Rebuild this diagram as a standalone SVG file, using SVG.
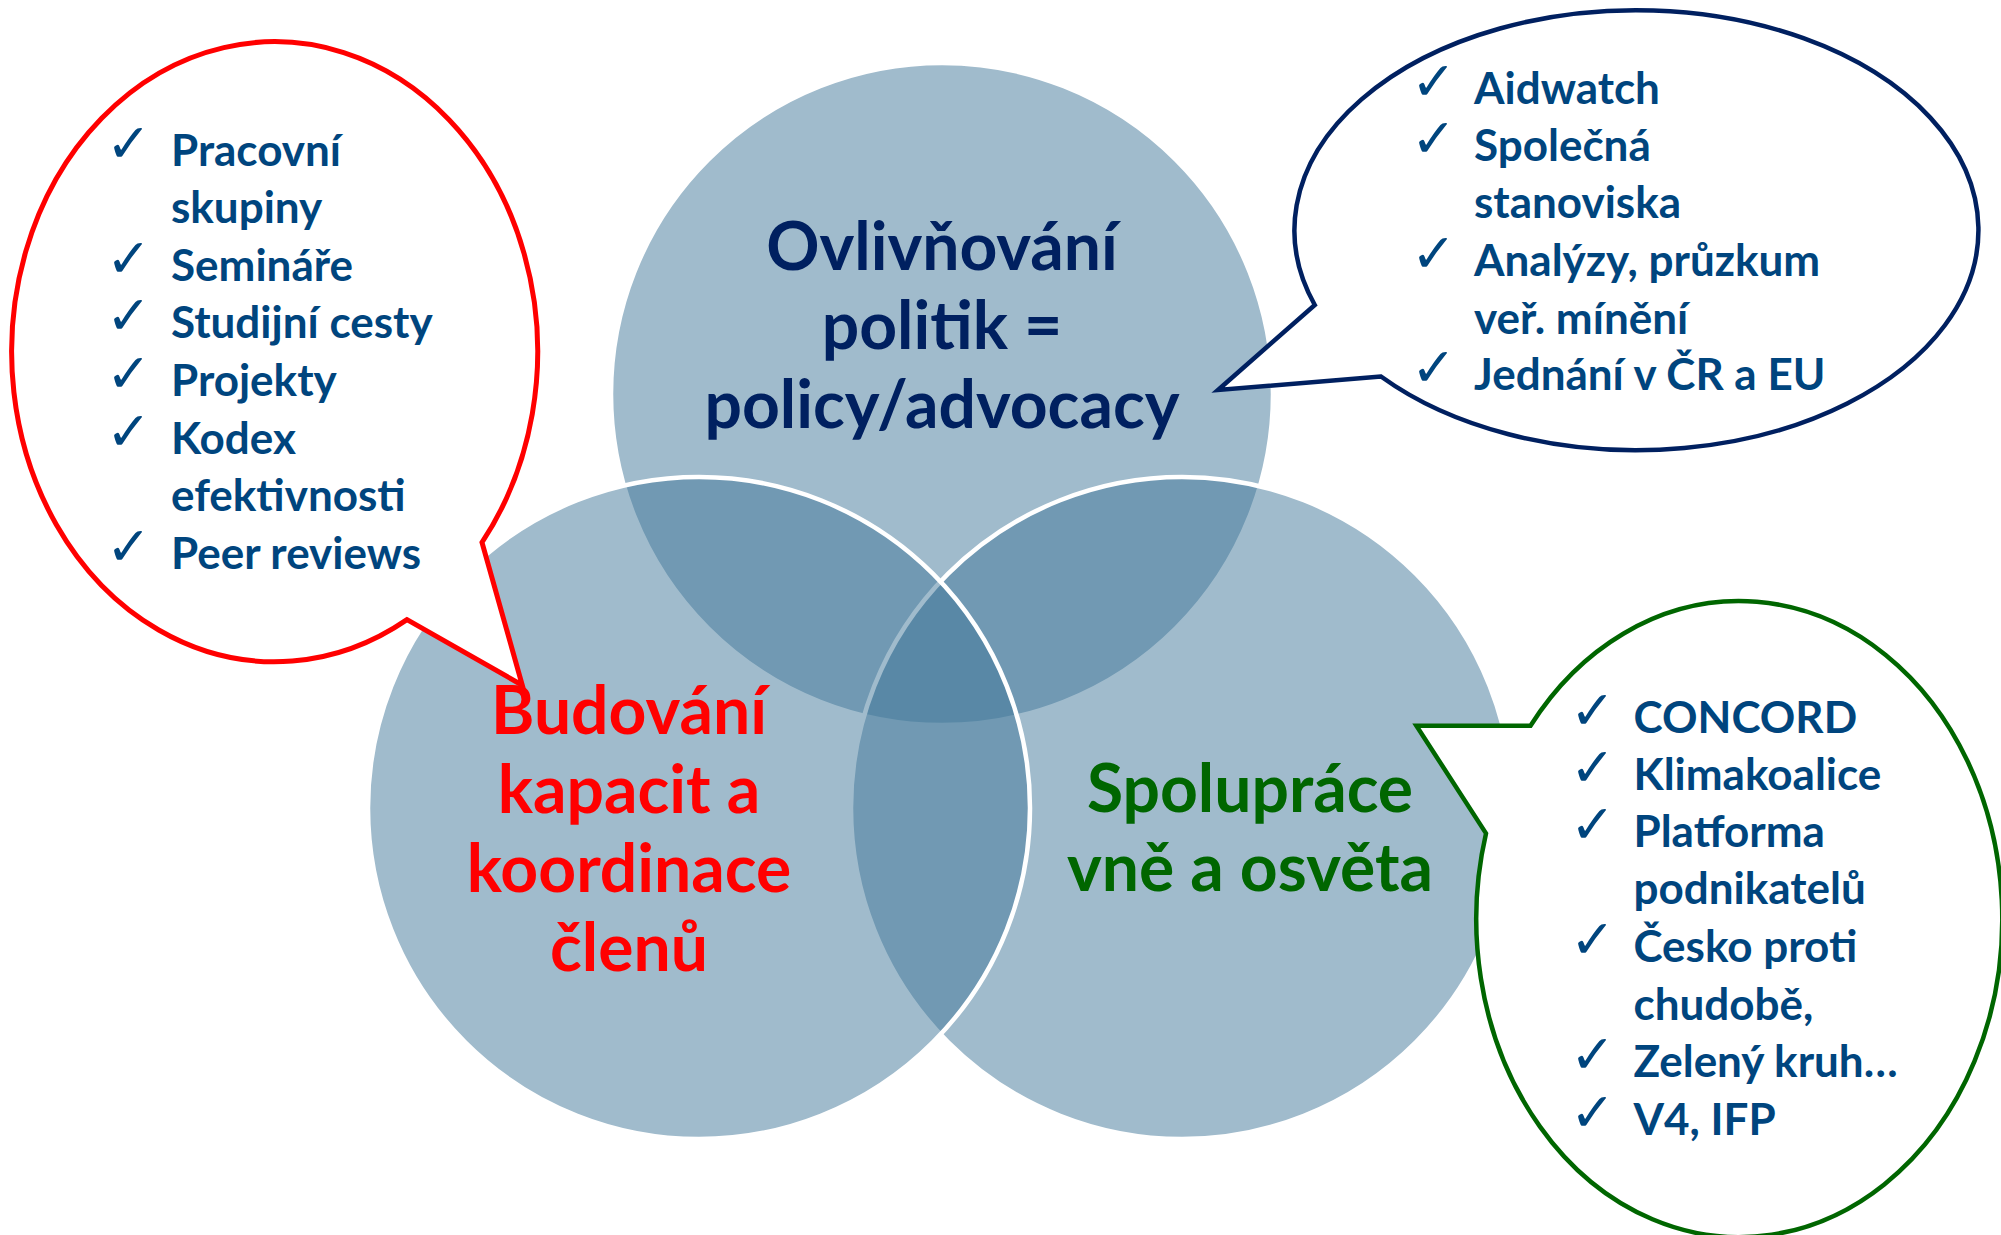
<svg xmlns="http://www.w3.org/2000/svg" width="2001" height="1235" viewBox="0 0 2001 1235">
<style>
.venn{fill:#417799;fill-opacity:0.5;stroke:#ffffff;stroke-width:4.5}
.big{font-family:Lato,"Open Sans","Liberation Sans",sans-serif;font-weight:bold;font-size:66px;text-anchor:middle}
.item{font-family:Lato,"Open Sans","Liberation Sans",sans-serif;font-weight:bold;font-size:44px;fill:#00457E}
.chk{font-family:"DejaVu Sans",sans-serif;font-size:54px;fill:#00457E}
.bubble{fill:#ffffff;stroke-linejoin:miter}
</style>
<rect width="2001" height="1235" fill="#ffffff"/>
<g id="node-top">
<circle class="venn" cx="942" cy="394" r="331"/>
<text class="big" fill="#002060"><tspan x="942" y="270">Ovlivňování</tspan><tspan x="942" y="349">politik =</tspan><tspan x="942" y="428">policy/advocacy</tspan></text>
</g>
<g id="node-right">
<circle class="venn" cx="1182" cy="808" r="331"/>
<text class="big" fill="#006600"><tspan x="1250" y="812">Spolupráce</tspan><tspan x="1250" y="891">vně a osvěta</tspan></text>
</g>
<g id="node-left">
<circle class="venn" cx="699" cy="808" r="331"/>
<text class="big" fill="#FF0000"><tspan x="629" y="734">Budování</tspan><tspan x="629" y="813">kapacit a</tspan><tspan x="629" y="892">koordinace</tspan><tspan x="629" y="971">členů</tspan></text>
</g>
<g id="connectors"></g>
<g id="bubble-left">
<path class="bubble" stroke="#FF0000" stroke-width="5" d="M407,619.6 L522.3,685.2 L482,542.4 A263,310 0 1 0 407,619.6 Z"/>
<text class="chk" x="106" y="162">✓</text>
<text class="chk" x="106" y="277">✓</text>
<text class="chk" x="106" y="334">✓</text>
<text class="chk" x="106" y="392">✓</text>
<text class="chk" x="106" y="450">✓</text>
<text class="chk" x="106" y="565">✓</text>
<text class="item"><tspan x="171" y="166">Pracovní</tspan><tspan x="171" y="223">skupiny</tspan><tspan x="171" y="281">Semináře</tspan><tspan x="171" y="338">Studijní cesty</tspan><tspan x="171" y="396">Projekty</tspan><tspan x="171" y="454">Kodex</tspan><tspan x="171" y="511">efektivnosti</tspan><tspan x="171" y="569">Peer reviews</tspan></text>
</g>
<g id="bubble-top">
<path class="bubble" stroke="#002060" stroke-width="4.5" d="M1381,376.5 L1218,390 L1314.8,305 A342,220 0 1 1 1381,376.5 Z"/>
<text class="chk" x="1411" y="100">✓</text>
<text class="chk" x="1411" y="157">✓</text>
<text class="chk" x="1411" y="272">✓</text>
<text class="chk" x="1411" y="386">✓</text>
<text class="item"><tspan x="1474" y="104">Aidwatch</tspan><tspan x="1474" y="161">Společná</tspan><tspan x="1474" y="218">stanoviska</tspan><tspan x="1474" y="276">Analýzy, průzkum</tspan><tspan x="1474" y="334">veř. mínění</tspan><tspan x="1474" y="390">Jednání v ČR a EU</tspan></text>
</g>
<g id="bubble-right">
<path class="bubble" stroke="#006600" stroke-width="4.5" d="M1530.5,725.7 L1416.4,725.7 L1486,833.4 A263,318 0 1 0 1530.5,725.7 Z"/>
<text class="chk" x="1570" y="729">✓</text>
<text class="chk" x="1570" y="786">✓</text>
<text class="chk" x="1570" y="843">✓</text>
<text class="chk" x="1570" y="958">✓</text>
<text class="chk" x="1570" y="1073">✓</text>
<text class="chk" x="1570" y="1131">✓</text>
<text class="item"><tspan x="1633.5" y="732.5">CONCORD</tspan><tspan x="1633.5" y="789.5">Klimakoalice</tspan><tspan x="1633.5" y="847">Platforma</tspan><tspan x="1633.5" y="904">podnikatelů</tspan><tspan x="1633.5" y="962">Česko proti</tspan><tspan x="1633.5" y="1019.6">chudobě,</tspan><tspan x="1633.5" y="1077">Zelený kruh…</tspan><tspan x="1633.5" y="1134.6">V4, IFP</tspan></text>
</g>
</svg>
